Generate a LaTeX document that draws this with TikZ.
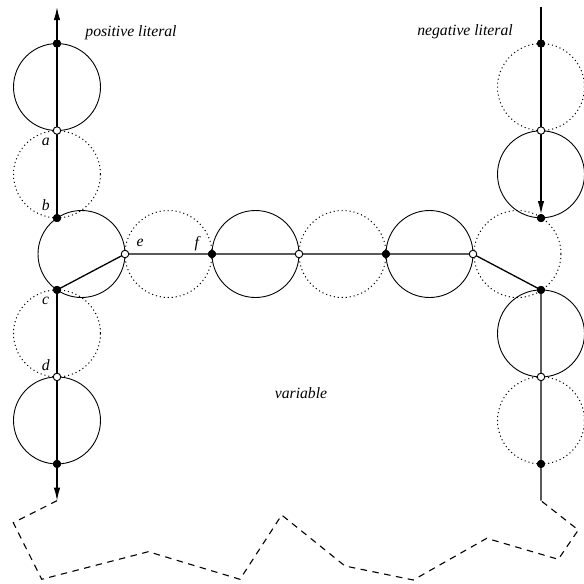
\documentclass[tikz,border=0pt]{standalone}
\usepackage{fontspec}
\setmainfont{Liberation Serif}
\usetikzlibrary{arrows.meta}
\begin{document}
\begin{tikzpicture}[x=1pt,y=-1pt,
  ring/.style={line width=0.9pt},
  ghost/.style={line width=1pt,dash pattern=on 1.1pt off 2.9pt},
  wire/.style={line width=1.3pt},
  tip/.style={-{Latex[length=13pt,width=6.5pt]}},
  fence/.style={line width=1.1pt,dash pattern=on 6.5pt off 5.5pt},
  full/.style={circle,fill=black,draw=black,line width=0.6pt,inner sep=0pt,minimum size=7.4pt},
  hollow/.style={circle,fill=white,draw=black,line width=0.8pt,inner sep=0pt,minimum size=7.4pt},
  lbl/.style={font=\fontsize{15.7}{18}\selectfont\itshape,inner sep=0pt,anchor=base}]
\useasboundingbox (0,0) rectangle (584,584);
\def\R{43.5}

% left column (positive literal)
\draw[ring]  (57,87.06)  circle (\R);
\draw[ghost] (57,174.31) circle (\R);
\draw[ring]  (81.5,254)  circle (\R);
\draw[ghost] (57,333.44) circle (\R);
\draw[ring]  (57,420.44) circle (\R);

% horizontal chain (variable)
\draw[ghost] (168.5,254) circle (\R);
\draw[ring]  (255.5,254) circle (\R);
\draw[ghost] (342.5,254) circle (\R);
\draw[ring]  (429.5,254) circle (\R);

% right column (negative literal)
\draw[ghost] (541,87.06)  circle (\R);
\draw[ring]  (541,174.31) circle (\R);
\draw[ghost] (517.5,254)  circle (\R);
\draw[ring]  (541,333.44) circle (\R);
\draw[ghost] (541,420.44) circle (\R);

% points
\coordinate (lt) at (57,7);
\coordinate (lb) at (57,500.7);
\coordinate (rt) at (541,7);
\coordinate (rb) at (541,500.7);
\node[full]   (l1) at (57,43.56) {};
\node[hollow] (l2) at (57,130.56) {};
\node[full]   (l3) at (57,218.06) {};
\node[full]   (l4) at (57,289.94) {};
\node[hollow] (l5) at (57,376.94) {};
\node[full]   (l6) at (57,463.94) {};
\node[hollow] (h1) at (125,254) {};
\node[full]   (h2) at (212,254) {};
\node[hollow] (h3) at (299,254) {};
\node[full]   (h4) at (386,254) {};
\node[hollow] (h5) at (473,254) {};
\node[full]   (r1) at (541,43.56) {};
\node[hollow] (r2) at (541,130.56) {};
\node[full]   (r3) at (541,218.06) {};
\node[full]   (r4) at (541,289.94) {};
\node[hollow] (r5) at (541,376.94) {};
\node[full]   (r6) at (541,463.94) {};

% wires
\draw[wire,tip] (l3.center) -- (lt);
\draw[wire,tip] (l4.center) -- (lb);
\draw[wire] (l4.center) -- (h1.center) -- (h5.center) -- (r4.center) -- (rb);
\draw[wire,tip] (rt) -- (r3.north);

% redraw points over the wires
\foreach \p in {l1,l3,l4,l6,h2,h4,r1,r3,r4,r6}
  \node[full] at (\p) {};
\foreach \p in {l2,l5,h1,h3,h5,r2,r5}
  \node[hollow] at (\p) {};

% boundary of the rest of the formula
\draw[fence] (lb) -- (13.3,522.7) -- (41.7,579.3) -- (148.3,551.7) -- (240,579.3)
  -- (281.7,515) -- (345,566) -- (413.3,580) -- (486.7,538.3) -- (558.3,559.3)
  -- (578.3,530) -- (rb);

% labels
\node[lbl] (tpos) at (131,36) {positive literal};
\node[lbl] (tneg) at (465,35.5) {negative literal};
\node[lbl] (tvar) at (301,398.3) {variable};
\node[lbl] (ta) at (45.7,145) {a};
\node[lbl] (tb) at (45.7,210) {b};
\node[lbl] (tc) at (45.7,304.5) {c};
\node[lbl] (td) at (45.7,370.7) {d};
\node[lbl] (te) at (140,246.7) {e};
\node[lbl] (tf) at (196.7,247) {f};
\end{tikzpicture}
\end{document}
